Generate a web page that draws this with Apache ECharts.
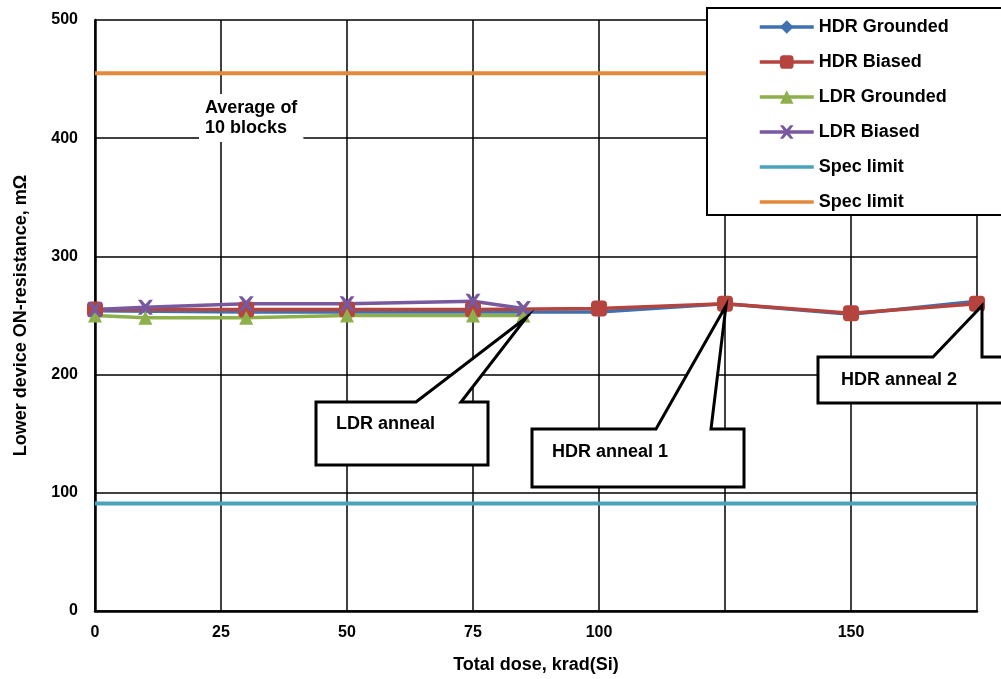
<!DOCTYPE html>
<html>
<head>
<meta charset="utf-8">
<script src="https://cdn.jsdelivr.net/npm/echarts@6/dist/echarts.min.js"></script>
<style>
  html, body { margin: 0; padding: 0; background: #fff; }
  #chart { width: 1001px; height: 679px; }
</style>
</head>
<body>
<div id="chart"></div>
<script>
// Total dose (krad(Si)) at each measurement step
const hdrDose = [0, 30, 50, 75, 100, 125, 150, 175];
const ldrDose = [0, 10, 30, 50, 75, 85];

// Lower device ON-resistance, mOhm (average of 10 blocks)
const hdrGrounded = [254, 253, 253, 253, 253, 260, 251, 262];
const hdrBiased   = [255, 255, 255, 255, 256, 260, 252, 260];
const ldrGrounded = [250, 248, 248, 250, 250, 250];
const ldrBiased   = [255, 257, 260, 260, 262, 256];

// Spec limits (mOhm)
const specLow = 91;
const specHigh = 455;

const seriesNames = ['HDR Grounded', 'HDR Biased', 'LDR Grounded', 'LDR Biased', 'Spec limit', 'Spec limit '];
const xTicks = [0, 25, 50, 75, 100, 125, 150, 175];
const xTickLabels = ['0', '25', '50', '75', '100', '', '150', ''];
const yTicks = [0, 100, 200, 300, 400, 500];

const font = '"Liberation Sans", Arial, sans-serif';
const colors = ['#3f70b0', '#b5433e', '#8db04c', '#7859a0', '#4aa3bb', '#e3893c'];

const crossPath = 'path://M0,0 L2.4,0 L5,3 L7.6,0 L10,0 L6.5,5 L10,10 L7.6,10 L5,7 L2.4,10 L0,10 L3.5,5 Z';

function pairs(xs, ys) { return xs.map((x, i) => [x, ys[i]]); }

const chart = echarts.init(document.getElementById('chart'), null, { renderer: 'canvas' });

const lineBase = { type: 'line', showSymbol: true, symbolKeepAspect: true, animation: false };

// Legend entries; the spec limit rows show only a line sample
const legendData = seriesNames.map((n, i) => i < 4 ? { name: n } : { name: n, itemStyle: { opacity: 0 } });

chart.setOption({
  animation: false,
  backgroundColor: '#fff',
  color: colors,
  grid: { left: 95, right: 24, top: 20, bottom: 61, containLabel: false },
  legend: {
    orient: 'vertical',
    left: 707, top: 8,
    padding: [10, 90, 4, 51],
    itemWidth: 54, itemHeight: 17, itemGap: 17,
    backgroundColor: '#fff', borderColor: '#000', borderWidth: 2,
    lineStyle: { width: 3.5 },
    textStyle: { fontFamily: font, fontWeight: 'bold', fontSize: 18, color: '#000' },
    data: legendData
  },
  xAxis: {
    type: 'value', min: 0, max: 175, interval: 25,
    name: 'Total dose, krad(Si)', nameLocation: 'middle', nameGap: 45,
    nameTextStyle: { fontFamily: font, fontWeight: 'bold', fontSize: 18, color: '#000' },
    axisLine: { show: true, onZero: false, lineStyle: { color: '#000', width: 2.5 } },
    axisTick: { show: false },
    axisLabel: {
      margin: 14, fontFamily: font, fontWeight: 'bold', fontSize: 16, color: '#000',
      formatter: v => xTickLabels[xTicks.indexOf(v)] ?? ''
    },
    splitLine: { show: true, lineStyle: { color: '#000', width: 1.5 } }
  },
  yAxis: {
    type: 'value', min: yTicks[0], max: yTicks[yTicks.length - 1], interval: 100,
    name: 'Lower device ON-resistance, mΩ', nameLocation: 'middle', nameGap: 65,
    nameTextStyle: { fontFamily: font, fontWeight: 'bold', fontSize: 18, color: '#000' },
    axisLine: { show: true, lineStyle: { color: '#000', width: 2.5 } },
    axisTick: { show: false },
    axisLabel: { margin: 17, fontFamily: font, fontWeight: 'bold', fontSize: 16, color: '#000' },
    splitLine: { show: true, lineStyle: { color: '#000', width: 1.5 } }
  },
  series: [
    Object.assign({}, lineBase, {
      name: seriesNames[0], data: pairs(hdrDose, hdrGrounded),
      symbol: 'diamond', symbolSize: 11, lineStyle: { width: 3.5 }
    }),
    Object.assign({}, lineBase, {
      name: seriesNames[1], data: pairs(hdrDose, hdrBiased),
      symbol: 'roundRect', symbolSize: 16, lineStyle: { width: 3.5 }
    }),
    Object.assign({}, lineBase, {
      name: seriesNames[2], data: pairs(ldrDose, ldrGrounded),
      symbol: 'triangle', symbolSize: 14, lineStyle: { width: 3.5 }
    }),
    Object.assign({}, lineBase, {
      name: seriesNames[3], data: pairs(ldrDose, ldrBiased),
      symbol: crossPath, symbolSize: 15, lineStyle: { width: 3.5 }
    }),
    Object.assign({}, lineBase, {
      name: seriesNames[4], data: [[0, specLow], [175, specLow]],
      symbol: 'none', showSymbol: false, lineStyle: { width: 4 }
    }),
    Object.assign({}, lineBase, {
      name: seriesNames[5], data: [[0, specHigh], [175, specHigh]],
      symbol: 'none', showSymbol: false, lineStyle: { width: 4 }
    })
  ]
});

// Callout boxes pointing at the anneal steps
const callouts = [
  { text: 'LDR anneal',   tip: [ldrDose[5], ldrGrounded[5]], dx: 3, box: [316, 402, 488, 465], base: [416, 461], label: [336, 424] },
  { text: 'HDR anneal 1', tip: [hdrDose[5], hdrBiased[5]],   dx: 1, box: [532, 429, 744, 487], base: [656, 711], label: [552, 452] },
  { text: 'HDR anneal 2', tip: [hdrDose[7], hdrBiased[7]],   dx: 5, box: [818, 357, 1012, 403], base: [933, 982], label: [841, 380] }
];

const graphics = [];
callouts.forEach(c => {
  const p = chart.convertToPixel({ gridIndex: 0 }, c.tip);
  const [L, T, R, B] = c.box;
  graphics.push({
    type: 'polygon', z: 100,
    shape: { points: [[L, T], [c.base[0], T], [p[0] + c.dx, p[1] + 2], [c.base[1], T], [R, T], [R, B], [L, B]] },
    style: { fill: '#fff', stroke: '#000', lineWidth: 3, lineJoin: 'miter' }
  });
  graphics.push({
    type: 'text', z: 101, x: c.label[0], y: c.label[1],
    style: { text: c.text, fill: '#000', font: 'bold 18px ' + font, verticalAlign: 'middle' }
  });
});

graphics.push({
  type: 'text', z: 50, x: 199, y: 94,
  style: {
    text: 'Average of\n10 blocks', fill: '#000', font: 'bold 18px ' + font,
    lineHeight: 20, backgroundColor: '#fff', padding: [4, 6, 4, 6]
  }
});

chart.setOption({ graphic: graphics });
</script>
</body>
</html>
